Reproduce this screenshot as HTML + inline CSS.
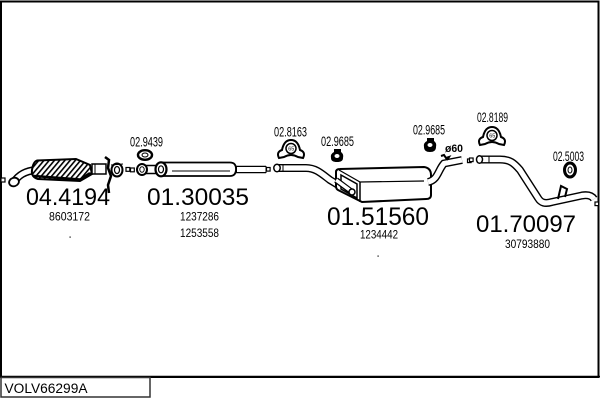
<!DOCTYPE html>
<html><head><meta charset="utf-8"><style>
html,body{margin:0;padding:0;background:#fff;}
svg{display:block;}
text{font-family:"Liberation Sans",Arial,sans-serif;fill:#000;}
</style></head><body>
<svg width="600" height="400" viewBox="0 0 600 400" xmlns="http://www.w3.org/2000/svg">
<defs>
<pattern id="h" width="4" height="4" patternUnits="userSpaceOnUse" patternTransform="rotate(40)">
<rect width="4" height="4" fill="#fff"/><rect width="1.6" height="4" fill="#000"/>
</pattern>
</defs>
<rect x="0" y="0" width="600" height="400" fill="#fff"/>
<!-- frame -->
<path d="M1,377 L1,1.5 L598.5,1.5 L598.5,377 Z" fill="none" stroke="#000" stroke-width="2"/>
<line x1="0" y1="376.5" x2="600" y2="376.5" stroke="#000" stroke-width="1.5"/>
<rect x="1" y="377.5" width="149" height="19.5" fill="#fff" stroke="#333" stroke-width="1.5"/>
<text x="4.5" y="393" font-size="13.5" textLength="83" lengthAdjust="spacingAndGlyphs">VOLV66299A</text>

<!-- ===== catalytic converter section ===== -->
<rect x="1" y="178" width="4" height="4" fill="#fff" stroke="#000" stroke-width="1.2"/>
<path d="M14,182 C18,176 24,171 36,170" fill="none" stroke="#000" stroke-width="8"/>
<path d="M14,182 C18,176 24,171 36,170" fill="none" stroke="#fff" stroke-width="5"/>
<ellipse cx="14" cy="182" rx="5" ry="4.2" transform="rotate(-20 14 182)" fill="#fff" stroke="#000" stroke-width="1.8"/>
<path d="M37,160.5 L76,159 L90,165 L92,174 L80,181 L38,179 Q31,177 32,170 Q33,162 37,160.5 Z" fill="url(#h)" stroke="#000" stroke-width="2"/>
<path d="M34,176 L80,179.5 L90,173" fill="none" stroke="#000" stroke-width="2.5"/>
<rect x="92" y="164" width="14" height="10" fill="#fff" stroke="#000" stroke-width="1.5"/>
<line x1="95" y1="164" x2="95" y2="174" stroke="#000" stroke-width="1"/>
<path d="M105,157 L109,160 L108,168 L111,176 L108,185 L109,193" fill="none" stroke="#000" stroke-width="2.5"/>
<ellipse cx="117" cy="170" rx="5.5" ry="6.5" fill="#fff" stroke="#000" stroke-width="2"/>
<ellipse cx="117" cy="170" rx="2.5" ry="3.5" fill="#fff" stroke="#000" stroke-width="1.2"/>
<line x1="111" y1="165" x2="123" y2="164" stroke="#000" stroke-width="1"/>
<rect x="126" y="167.5" width="3.8" height="3.8" fill="#fff" stroke="#000" stroke-width="1.2"/>

<!-- ===== middle muffler ===== -->
<ellipse cx="145" cy="155" rx="7" ry="4.8" fill="#fff" stroke="#000" stroke-width="2.4"/>
<ellipse cx="145" cy="155" rx="3" ry="2" fill="#fff" stroke="#000" stroke-width="1"/>
<rect x="130.5" y="168" width="3.8" height="3.8" fill="#fff" stroke="#000" stroke-width="1.2"/>
<rect x="146" y="165.5" width="11" height="8" fill="#fff" stroke="#000" stroke-width="1.5"/>
<ellipse cx="142" cy="169.5" rx="5" ry="5.5" fill="#fff" stroke="#000" stroke-width="2"/>
<ellipse cx="142" cy="169.5" rx="2.2" ry="2.8" fill="#fff" stroke="#000" stroke-width="1"/>
<path d="M161,162.5 L230,162.5 Q236,162.5 236,169 Q236,176 230,176 L161,176" fill="#fff" stroke="#000" stroke-width="1.8"/>
<line x1="172" y1="171" x2="230" y2="171" stroke="#000" stroke-width="1"/>
<ellipse cx="161" cy="169.3" rx="5.5" ry="7" fill="#fff" stroke="#000" stroke-width="2.2"/>
<ellipse cx="161" cy="169.3" rx="2.5" ry="3.5" fill="#fff" stroke="#000" stroke-width="1.2"/>
<path d="M236,169.5 L266,169.5" fill="none" stroke="#000" stroke-width="7.5"/>
<path d="M237,169.5 L266,169.5" fill="none" stroke="#fff" stroke-width="5"/>
<line x1="266" y1="166" x2="266" y2="173" stroke="#000" stroke-width="1"/>
<rect x="266.5" y="167.5" width="3.6" height="3.6" fill="#fff" stroke="#000" stroke-width="1.2"/>

<!-- ===== rear-middle muffler ===== -->
<path d="M276,168 L306,168 C316,168 322,174 330,180 L350,192" fill="none" stroke="#000" stroke-width="8"/>
<path d="M276,168 L306,168 C316,168 322,174 330,180 L350,192" fill="none" stroke="#fff" stroke-width="5.2"/>
<ellipse cx="277" cy="168" rx="3.2" ry="3.8" fill="#fff" stroke="#000" stroke-width="1.5"/>
<line x1="283" y1="164.5" x2="283" y2="171.5" stroke="#000" stroke-width="1"/>
<path d="M340,169 L424,167 Q431,168 431,175 L431,195 Q431,199 426,199 L362,202 L338,190 Q336,189 336,186 L336,172 Q336,169 340,169 Z" fill="#fff" stroke="#000" stroke-width="2"/>
<path d="M339,170 L360,182 L424,181" fill="none" stroke="#000" stroke-width="1.2"/>
<line x1="360" y1="182" x2="360" y2="202" stroke="#000" stroke-width="1.5"/>
<path d="M341,175 L357,184 L357,198 L341,189 Z" fill="#fff" stroke="#000" stroke-width="1.5"/>
<path d="M336,180 L352,192" stroke="#000" stroke-width="6"/>
<path d="M336,180 L351,191" stroke="#fff" stroke-width="3.5"/>
<ellipse cx="352" cy="192" rx="3" ry="3" fill="#fff" stroke="#000" stroke-width="1.5"/>
<path d="M428,182 C438,180 438,170 444,163.5 L462,160" fill="none" stroke="#000" stroke-width="8"/>
<path d="M428,182 C438,180 438,170 444,163.5 L462,160" fill="none" stroke="#fff" stroke-width="5.2"/>
<path d="M441,156 L444,155 L446,158 L449,157 L447,160" fill="none" stroke="#000" stroke-width="2"/>
<rect x="467.5" y="159" width="3.6" height="3.6" fill="#fff" stroke="#000" stroke-width="1.2"/>

<!-- hangers -->
<path d="M279,158 Q276,152 282,150 Q284,140 291,140 Q298,140 300,150 Q306,152 303,158 L298,157 Q291,153 284,157 Z" fill="#fff" stroke="#000" stroke-width="2"/>
<circle cx="291" cy="148.5" r="5" fill="#fff" stroke="#000" stroke-width="1.5"/>
<text x="288.2" y="150.5" font-size="5.5">65</text>
<path d="M480,145 Q477,139 483,137 Q485,127 492,127 Q499,127 501,137 Q507,139 504,145 L499,144 Q492,140 485,144 Z" fill="#fff" stroke="#000" stroke-width="2"/>
<circle cx="492" cy="135.5" r="5" fill="#fff" stroke="#000" stroke-width="1.5"/>
<text x="489.2" y="137.5" font-size="5.5">65</text>
<path d="M334,149 L341,149 L341,152 Q344,154 343,158 Q343,162 337,162 Q331,162 331,158 Q330,154 334,152 Z" fill="#000"/>
<ellipse cx="337" cy="156" rx="2.5" ry="2" fill="#fff"/>
<path d="M427,138 L434,138 L434,141 Q437,143 436,147 Q436,152 430,152 Q424,152 424,147 Q423,143 427,141 Z" fill="#000"/>
<ellipse cx="430" cy="145" rx="2.5" ry="2" fill="#fff"/>
<ellipse cx="570" cy="170" rx="5.5" ry="7" fill="#fff" stroke="#000" stroke-width="3"/>
<ellipse cx="570" cy="170" rx="2" ry="3" fill="#fff" stroke="#000" stroke-width="1"/>

<!-- ===== tailpipe ===== -->
<rect x="469.5" y="158" width="3.6" height="3.6" fill="#fff" stroke="#000" stroke-width="1.2"/>
<path d="M479,159.5 L500,159.5 C510,159.5 514,163 520,170 L538,198 C541,203 545,204 552,202 L582,195.5 C588,194.5 592,196 594,199" fill="none" stroke="#000" stroke-width="8"/>
<path d="M479,159.5 L500,159.5 C510,159.5 514,163 520,170 L538,198 C541,203 545,204 552,202 L582,195.5 C588,194.5 592,196 594,199" fill="none" stroke="#fff" stroke-width="5.2"/>
<ellipse cx="479.5" cy="159.5" rx="3" ry="3.8" fill="#fff" stroke="#000" stroke-width="1.5"/>
<line x1="489" y1="156" x2="489" y2="163" stroke="#000" stroke-width="1"/>
<path d="M558,199 L561,186 L567,189 L565,197" fill="none" stroke="#000" stroke-width="2"/>
<rect x="595" y="202" width="3.6" height="3.6" fill="#fff" stroke="#000" stroke-width="1.2"/>

<!-- part labels -->
<text x="130" y="146.5" font-size="14" textLength="33" lengthAdjust="spacingAndGlyphs">02.9439</text>
<text x="274" y="136.5" font-size="14" textLength="33" lengthAdjust="spacingAndGlyphs">02.8163</text>
<text x="321" y="146" font-size="14" textLength="33" lengthAdjust="spacingAndGlyphs">02.9685</text>
<text x="413" y="134.5" font-size="14" textLength="32" lengthAdjust="spacingAndGlyphs">02.9685</text>
<text x="477" y="122" font-size="14" textLength="31" lengthAdjust="spacingAndGlyphs">02.8189</text>
<text x="553" y="161" font-size="14" textLength="31" lengthAdjust="spacingAndGlyphs">02.5003</text>
<text x="445" y="152" font-size="11" font-weight="bold" textLength="18" lengthAdjust="spacingAndGlyphs">ø60</text>

<text x="26" y="205" font-size="24" textLength="84" lengthAdjust="spacingAndGlyphs">04.4194</text>
<text x="147" y="205" font-size="24" textLength="102" lengthAdjust="spacingAndGlyphs">01.30035</text>
<text x="327" y="225" font-size="25" textLength="102" lengthAdjust="spacingAndGlyphs">01.51560</text>
<text x="476" y="232" font-size="24" textLength="100" lengthAdjust="spacingAndGlyphs">01.70097</text>

<text x="49" y="220.5" font-size="12" textLength="41" lengthAdjust="spacingAndGlyphs">8603172</text>
<text x="180" y="220.5" font-size="12" textLength="39" lengthAdjust="spacingAndGlyphs">1237286</text>
<text x="180" y="237" font-size="12" textLength="39" lengthAdjust="spacingAndGlyphs">1253558</text>
<text x="360" y="238.5" font-size="12" textLength="38" lengthAdjust="spacingAndGlyphs">1234442</text>
<text x="505" y="248" font-size="12" textLength="45" lengthAdjust="spacingAndGlyphs">30793880</text>
<rect x="69.5" y="236.5" width="1.2" height="1.2" fill="#000"/>
<rect x="377.5" y="255.5" width="1.2" height="1.2" fill="#000"/>
</svg>
</body></html>
